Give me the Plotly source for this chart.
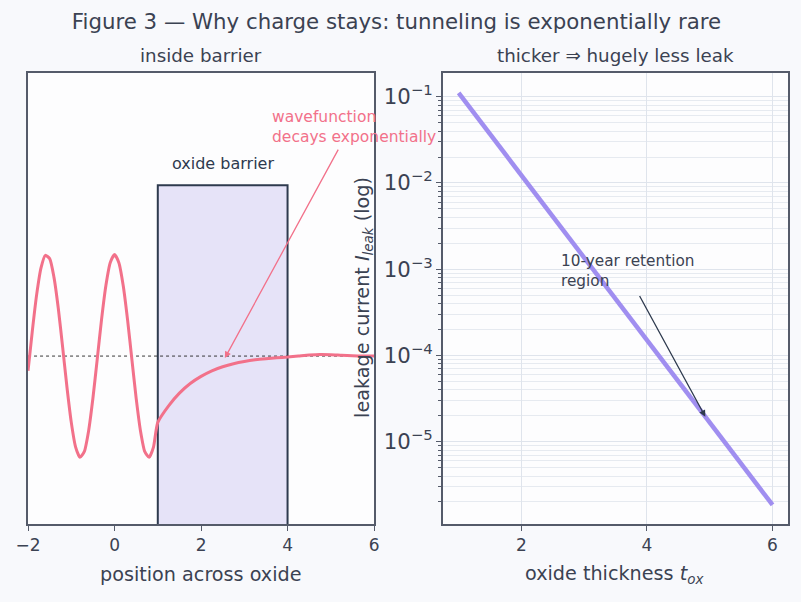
import plotly.graph_objects as go

# ---------------- data ----------------
# left panel: wavefunction across the oxide barrier
wave_x_left = [-2.0, -1.9, -1.8, -1.7, -1.6, -1.5, -1.4, -1.3, -1.2, -1.1,
               -1.0, -0.9, -0.8, -0.7, -0.6, -0.5, -0.4, -0.3, -0.2, -0.1,
               0.0, 0.1, 0.2, 0.3, 0.4, 0.5, 0.6, 0.7, 0.8, 0.9, 1.0]
wave_y_left = [-0.1455, 0.2513, 0.6084, 0.8694, 0.9932, 0.9602, 0.7756, 0.4685, 0.0875, -0.3073,
               -0.6536, -0.8968, -0.9983, -0.9422, -0.7374, -0.4161, -0.0292, 0.3624, 0.6967, 0.9211,
               1.0, 0.9211, 0.6967, 0.3624, -0.0292, -0.4161, -0.7374, -0.9422, -0.9983, -0.8968, -0.6536]
wave_x_right = [1.25, 1.5, 1.75, 2.0, 2.25, 2.5, 2.75, 3.0, 3.25, 3.5, 3.75, 4.0,
                4.25, 4.5, 4.75, 5.0, 5.25, 5.5, 5.75, 6.0]
wave_y_right = [-0.49, -0.365, -0.27, -0.20, -0.145, -0.105, -0.075, -0.053, -0.037, -0.026, -0.017, -0.010,
                0.0, 0.010, 0.016, 0.014, 0.008, 0.003, 0.0, 0.0]
baseline_x = [-2.0, 6.0]
baseline_y = [0.0, 0.0]
barrier_x = [1.0, 1.0, 4.0, 4.0]
barrier_y = [-1.655, 1.685, 1.685, -1.655]

# right panel: leakage current vs oxide thickness
tox = [1.0, 1.5, 2.0, 2.5, 3.0, 3.5, 4.0, 4.5, 5.0, 5.5, 6.0]
ileak = [0.1108, 0.03688, 0.01228, 0.004087, 0.001360, 4.53e-4, 1.507e-4, 5.02e-5, 1.670e-5, 5.56e-6, 1.85e-6]

left_xticks = [-2, 0, 2, 4, 6]
right_xticks = [2, 4, 6]

# ---------------- styles ----------------
FONT = "DejaVu Sans"
TXT = "#3b4252"
DARK = "#2e3a4e"
AXIS = "#555b6a"
PINK = "#f2718a"
PURPLE = "#a08ef0"
FILL = "#e6e3f8"
GRID = "#dfe4ec"

fig = go.Figure()

fig.add_trace(go.Scatter(x=barrier_x, y=barrier_y, mode="lines", fill="toself",
                         fillcolor=FILL, line=dict(color=DARK, width=2),
                         xaxis="x", yaxis="y", showlegend=False, hoverinfo="skip"))
fig.add_trace(go.Scatter(x=baseline_x, y=baseline_y, mode="lines",
                         line=dict(color="#222222", width=0.9, dash="dot"),
                         xaxis="x", yaxis="y", showlegend=False, hoverinfo="skip"))
fig.add_trace(go.Scatter(x=wave_x_left + wave_x_right, y=wave_y_left + wave_y_right, mode="lines",
                         line=dict(color=PINK, width=3, shape="spline", smoothing=0.6),
                         xaxis="x", yaxis="y", showlegend=False))

fig.add_trace(go.Scatter(x=tox, y=ileak, mode="lines",
                         line=dict(color=PURPLE, width=4.5),
                         xaxis="x2", yaxis="y2", showlegend=False))

axis_common = dict(showline=True, linecolor=AXIS, linewidth=1.5, mirror=True, automargin=False,
                   tickfont=dict(family=FONT, size=17, color=TXT),
                   ticklen=5, tickwidth=1.2, tickcolor=AXIS, zeroline=False)

fig.update_layout(
    width=801, height=602,
    margin=dict(l=0, r=0, t=0, b=0),
    paper_bgcolor="#f8f9fc",
    plot_bgcolor="#fdfdfe",
    font=dict(family=FONT, color=TXT),
    title=dict(text="Figure 3 — Why charge stays: tunneling is exponentially rare",
               x=0.495, xanchor="center", y=0.9635, yanchor="middle",
               font=dict(family=FONT, size=21.3, color=TXT)),
    xaxis=dict(domain=[0.035, 0.467], range=[-2, 6], tickvals=left_xticks, ticks="outside",
               showgrid=False, anchor="y", **axis_common),
    yaxis=dict(domain=[0.1296, 0.8787], range=[-1.655, 2.79], showticklabels=False, ticks="",
               showgrid=False, anchor="x", **axis_common),
    xaxis2=dict(domain=[0.553, 0.984], range=[0.75, 6.25], tickvals=right_xticks, ticks="outside",
                showgrid=True, gridcolor=GRID, gridwidth=1, anchor="y2", **axis_common),
    yaxis2=dict(domain=[0.1296, 0.8787], type="log", range=[-5.954, -0.725], ticks="outside",
                dtick=1, exponentformat="power", showgrid=True, gridcolor=GRID, gridwidth=1,
                anchor="x2",
                minor=dict(dtick="D1", showgrid=True, gridcolor="#e6eaf0", gridwidth=1,
                           ticks="outside", ticklen=3, tickcolor=AXIS),
                **axis_common),
)

annotations = [
    dict(text="inside barrier", xref="paper", yref="paper", x=0.251, y=0.9086,
         xanchor="center", yanchor="middle", showarrow=False,
         font=dict(family=FONT, size=18.3, color=TXT)),
    dict(text="thicker ⇒ hugely less leak", xref="paper", yref="paper", x=0.7685, y=0.9086,
         xanchor="center", yanchor="middle", showarrow=False,
         font=dict(family=FONT, size=18.3, color=TXT)),
    # axis titles
    dict(text="position across oxide", xref="paper", yref="paper", x=0.251, y=0.0449,
         xanchor="center", yanchor="middle", showarrow=False,
         font=dict(family=FONT, size=19.2, color=TXT)),
    dict(text="oxide thickness <i>t</i><sub><i>ox</i></sub>", xref="paper", yref="paper",
         x=0.767, y=0.0449, xanchor="center", yanchor="middle", showarrow=False,
         font=dict(family=FONT, size=19.2, color=TXT)),
    dict(text="leakage current <i>I</i><sub><i>leak</i></sub> (log)", xref="paper", yref="paper",
         x=0.453, y=0.5066, xanchor="center", yanchor="middle", textangle=-90, showarrow=False,
         font=dict(family=FONT, size=19.2, color=TXT)),
    # in-plot labels
    dict(text="oxide barrier", xref="x", yref="y", x=2.5, y=1.90,
         xanchor="center", yanchor="middle", showarrow=False,
         font=dict(family=FONT, size=16, color=DARK)),
    dict(text="wavefunction<br>decays exponentially", xref="x", yref="y", x=3.6, y=2.256,
         xanchor="left", yanchor="middle", align="left", showarrow=False,
         font=dict(family=FONT, size=15.5, color=PINK)),
    dict(text="", xref="x", yref="y", x=2.55, y=-0.02, axref="x", ayref="y", ax=5.19, ay=2.05,
         showarrow=True, arrowhead=2, arrowsize=1, arrowwidth=1.3, arrowcolor=PINK),
    dict(text="10-year retention<br>region", xref="x2", yref="y2", x=2.6, y=-3.023,
         xanchor="left", yanchor="middle", align="left", showarrow=False,
         font=dict(family=FONT, size=15.3, color=TXT)),
    dict(text="", xref="x2", yref="y2", x=4.93, y=-4.71, axref="x2", ayref="y2", ax=3.87, ay=-3.293,
         showarrow=True, arrowhead=2, arrowsize=1, arrowwidth=1.3, arrowcolor=DARK),
]
fig.update_layout(annotations=annotations)

fig.write_html("out.html")
